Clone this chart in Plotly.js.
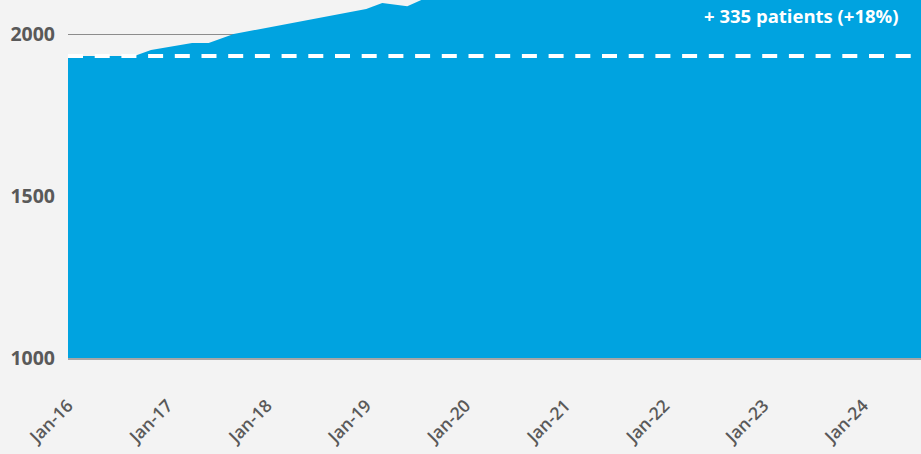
<!DOCTYPE html>
<html><head><meta charset="utf-8">
<script src="https://cdn.plot.ly/plotly-3.0.1.min.js"></script>
<style>html,body{margin:0;padding:0;background:#f3f3f3;}#chart{width:921px;height:454px;}</style>
</head><body><div id="chart"></div>
<script>
const dates = ['2016-01-01','2016-09-01','2016-11-01','2017-04-01','2017-06-01','2017-09-01','2019-01-01','2019-03-01','2019-06-01','2019-09-01','2020-06-01','2021-06-01','2022-06-01','2023-06-01','2024-08-01'];
const patients = [1932,1932,1951,1972,1972,2000,2077,2096,2086,2120,2160,2190,2215,2245,2267];
const baseline = 1932;
const tickDates = ['2016-01-01','2017-01-01','2018-01-01','2019-01-01','2020-01-01','2021-01-01','2022-01-01','2023-01-01','2024-01-01'];
const tickLabels = ['Jan-16','Jan-17','Jan-18','Jan-19','Jan-20','Jan-21','Jan-22','Jan-23','Jan-24'];
const yTicks = [1000,1500,2000];
const annotationText = '+ 335 patients (+18%)';

const xEnd = '2024-08-01';
const traces = [
  {x: dates, y: patients, type:'scatter', mode:'lines', fill:'tozeroy', fillcolor:'#00a3e0', line:{width:0, color:'#00a3e0'}, hoverinfo:'skip'},
  {x: ['2016-01-01', xEnd], y: [baseline, baseline], type:'scatter', mode:'lines', line:{color:'#ffffff', width:4, dash:'15px,11.7px'}, hoverinfo:'skip'}
];
const layout = {
  width:921, height:454,
  margin:{l:68, r:0, t:0, b:96},
  paper_bgcolor:'#f3f3f3', plot_bgcolor:'#f3f3f3',
  showlegend:false,
  xaxis:{type:'date', range:['2016-01-01', xEnd], tickvals:tickDates, ticktext:tickLabels, tickangle:-45,
         showgrid:false, zeroline:false, showline:true, linecolor:'#a6a6a6', linewidth:1.5, ticks:'',
         ticklabelstandoff:29, tickfont:{family:'"Open Sans", sans-serif', size:17.5, color:'#595959', weight:600}},
  yaxis:{range:[1000,2105], tickvals:yTicks, showgrid:true, gridcolor:'#8c8c8c', gridwidth:1, zeroline:false,
         showline:false, ticks:'', ticklabelstandoff:12, tickfont:{family:'"Open Sans", sans-serif', size:19.5, color:'#595959', weight:700}},
  annotations:[{xref:'paper', yref:'paper', x:0.977, y:0.958, xanchor:'right', yanchor:'middle', showarrow:false,
    text: annotationText, font:{family:'"Open Sans", sans-serif', size:18.5, color:'#ffffff', weight:700}}]
};
Plotly.newPlot('chart', traces, layout, {displayModeBar:false, staticPlot:true});
</script>
</body></html>
